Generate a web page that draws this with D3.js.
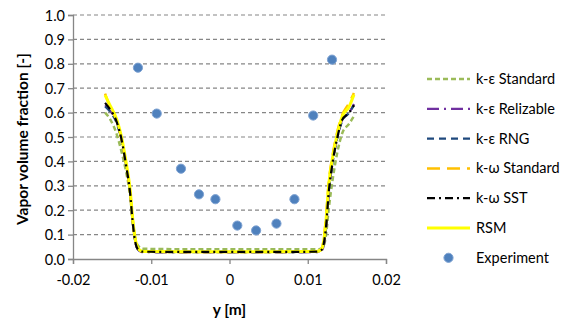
<!DOCTYPE html>
<html>
<head>
<meta charset="utf-8">
<script src="https://cdn.jsdelivr.net/npm/d3@7"></script>
<style>
  body { margin: 0; background: #fff; }
  text { font-family: Lato, "Open Sans", sans-serif; fill: #000; }
</style>
</head>
<body>
<div id="chart"></div>
<script>
// shared y positions [m] for the simulated profiles
var ys = [-0.0159, -0.0153, -0.0144, -0.0138, -0.0132, -0.0127, -0.0124, -0.0121, -0.0117, -0.0111,
  -0.005, 0, 0.005, 0.0111, 0.0116, 0.0119, 0.0123, 0.0127, 0.0132, 0.0138, 0.0144, 0.0153, 0.0159];

var keStandard = [0.60, 0.575, 0.51, 0.44, 0.355, 0.26, 0.165, 0.095, 0.055, 0.042, 0.04, 0.04, 0.04, 0.04, 0.041, 0.046, 0.09, 0.21, 0.33, 0.44, 0.515, 0.555, 0.585];
var keRelizable = [0.63, 0.61, 0.56, 0.49, 0.38, 0.27, 0.16, 0.08, 0.038, 0.028, 0.027, 0.027, 0.027, 0.028, 0.030, 0.04, 0.11, 0.27, 0.40, 0.50, 0.57, 0.60, 0.635];
var keRNG = [0.625, 0.605, 0.555, 0.485, 0.38, 0.27, 0.16, 0.08, 0.04, 0.029, 0.028, 0.028, 0.028, 0.029, 0.032, 0.045, 0.12, 0.28, 0.40, 0.50, 0.565, 0.60, 0.63];
var kwStandard = [0.678, 0.625, 0.565, 0.49, 0.385, 0.275, 0.17, 0.09, 0.043, 0.030, 0.029, 0.029, 0.029, 0.030, 0.034, 0.055, 0.16, 0.32, 0.43, 0.525, 0.59, 0.64, 0.68];
var kwSST = [0.64, 0.615, 0.56, 0.49, 0.38, 0.27, 0.16, 0.08, 0.04, 0.030, 0.029, 0.029, 0.029, 0.030, 0.033, 0.045, 0.12, 0.28, 0.40, 0.50, 0.57, 0.60, 0.63];
var rsm = [0.672, 0.632, 0.571, 0.50, 0.393, 0.284, 0.175, 0.093, 0.045, 0.031, 0.030, 0.030, 0.030, 0.031, 0.035, 0.05, 0.147, 0.31, 0.42, 0.516, 0.584, 0.625, 0.673];

var expY = [-0.0117, -0.0093, -0.0062, -0.0039, -0.0018, 0.001, 0.0034, 0.006, 0.0083, 0.0107, 0.0131];
var expValue = [0.784, 0.596, 0.37, 0.265, 0.245, 0.137, 0.117, 0.145, 0.245, 0.588, 0.817];

var xTicks = [-0.02, -0.01, 0, 0.01, 0.02];
var xTickLabels = ['-0.02', '-0.01', '0', '0.01', '0.02'];
var yTicks = [0, 0.1, 0.2, 0.3, 0.4, 0.5, 0.6, 0.7, 0.8, 0.9, 1.0];

var series = [
  {name: 'k-ε Standard', values: keStandard, color: '#9BBB59', width: 2.5, dash: '5,3'},
  {name: 'k-ε Relizable', values: keRelizable, color: '#7030A0', width: 2.2, dash: '12,5,2,5'},
  {name: 'k-ε RNG', values: keRNG, color: '#1F497D', width: 2.2, dash: '7,5'},
  {name: 'k-ω Standard', values: kwStandard, color: '#FFC000', width: 2.5, dash: '13,7'},
  {name: 'RSM', values: rsm, color: '#FFFF00', width: 3, dash: null},
  {name: 'k-ω SST', values: kwSST, color: '#000000', width: 2.2, dash: '8,4,2,4'}
];
var legendOrder = ['k-ε Standard', 'k-ε Relizable', 'k-ε RNG', 'k-ω Standard', 'k-ω SST', 'RSM'];

var width = 578, height = 331;
var margin = {top: 15, left: 73, right: 192, bottom: 72};
var plotW = width - margin.left - margin.right;
var plotH = height - margin.top - margin.bottom;

var svg = d3.select('#chart').append('svg')
  .attr('width', width)
  .attr('height', height);

var chart = svg.append('g')
  .attr('transform', `translate(${margin.left},${margin.top})`);

var x = d3.scaleLinear().domain([-0.02, 0.02]).range([0, plotW]);
var y = d3.scaleLinear().domain([0, 1]).range([plotH, 0]);

// gridlines
chart.append('g')
  .selectAll('line')
  .data(yTicks.slice(1))
  .enter().append('line')
  .attr('x1', 0).attr('x2', plotW)
  .attr('y1', d => y(d)).attr('y2', d => y(d))
  .attr('stroke', '#868686')
  .attr('stroke-width', 1.2)
  .attr('stroke-dasharray', '4,3');

// axes
var yAxis = d3.axisLeft(y).tickValues(yTicks).tickFormat(d3.format('.1f')).tickSize(5);
var gy = chart.append('g').call(yAxis);
var xAxis = d3.axisBottom(x).tickValues(xTicks).tickFormat((d, i) => xTickLabels[i]).tickSize(5);
var gx = chart.append('g').attr('transform', `translate(0,${plotH})`).call(xAxis);

[gx, gy].forEach(function(g) {
  g.select('.domain').attr('stroke', '#868686').attr('stroke-width', 1.3);
  g.selectAll('.tick line').attr('stroke', '#868686').attr('stroke-width', 1.3);
  g.selectAll('.tick text').style('font-size', '14.5px').style('font-family', 'Lato, sans-serif').attr('fill', '#000');
});
gy.selectAll('.tick text').attr('x', -8).attr('dy', '0.35em');
gx.selectAll('.tick text').attr('y', 16);

// lines
var line = d3.line()
  .x((d, i) => x(ys[i]))
  .y(d => y(d))
  .curve(d3.curveMonotoneX);

series.forEach(function(s) {
  chart.append('path')
    .datum(s.values)
    .attr('d', line)
    .attr('fill', 'none')
    .attr('stroke', s.color)
    .attr('stroke-width', s.width)
    .attr('stroke-dasharray', s.dash);
});

// experiment points
chart.selectAll('.exp')
  .data(expValue)
  .enter().append('circle')
  .attr('cx', (d, i) => x(expY[i]))
  .attr('cy', d => y(d))
  .attr('r', 4.6)
  .attr('fill', '#4F81BD')
  .attr('stroke', '#7FA3D3')
  .attr('stroke-width', 1);

// axis titles
svg.append('text')
  .attr('x', margin.left + x(0))
  .attr('y', 315)
  .attr('text-anchor', 'middle')
  .style('font-size', '15.5px')
  .style('font-weight', 'bold')
  .text('y [m]');

svg.append('text')
  .attr('transform', `translate(28,${margin.top + plotH / 2 + 2}) rotate(-90)`)
  .attr('text-anchor', 'middle')
  .style('font-size', '15.5px')
  .style('font-weight', 'bold')
  .text('Vapor volume fraction [-]');

// legend
var legend = svg.append('g').attr('transform', 'translate(427,79)');
var rowH = 29.8;
legendOrder.forEach(function(name, i) {
  var s = series.find(d => d.name === name);
  var row = legend.append('g').attr('transform', `translate(0,${i * rowH})`);
  row.append('line')
    .attr('x1', 0).attr('x2', 43).attr('y1', 0).attr('y2', 0)
    .attr('stroke', s.color)
    .attr('stroke-width', s.width)
    .attr('stroke-dasharray', s.dash);
  row.append('text')
    .attr('x', 49).attr('y', 0).attr('dy', '0.35em')
    .style('font-size', '14.5px')
    .text(name);
});
var expRow = legend.append('g').attr('transform', `translate(0,${6 * rowH})`);
expRow.append('circle')
  .attr('cx', 21.5).attr('cy', 0).attr('r', 4.6)
  .attr('fill', '#4F81BD').attr('stroke', '#7FA3D3').attr('stroke-width', 1);
expRow.append('text')
  .attr('x', 49).attr('y', 0).attr('dy', '0.35em')
  .style('font-size', '14.5px')
  .text('Experiment');
</script>
</body>
</html>
